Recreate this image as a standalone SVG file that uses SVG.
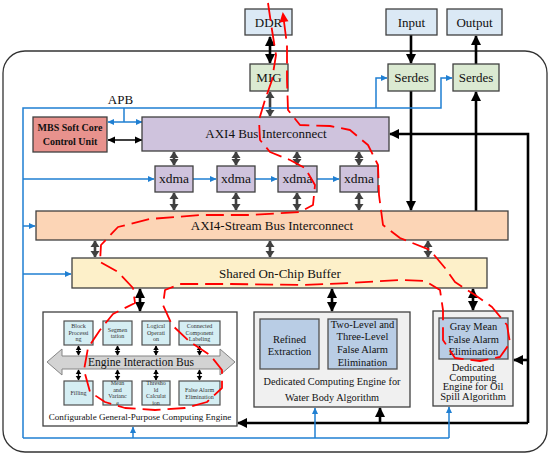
<svg xmlns="http://www.w3.org/2000/svg" width="550" height="455" viewBox="0 0 550 455">
<style>
text{font-family:"Liberation Serif","Times New Roman",serif;fill:#111;text-anchor:middle}
.bx{stroke:#404040;stroke-width:1.3}
.lb{fill:#dbe9f5}.gr{fill:#dbead2}.pu{fill:#cfc3dd}
.sm{fill:#d5eef3;stroke:#505050;stroke-width:1.2}
.st{font-size:6px;fill:#333}
.k{stroke:#000;stroke-width:2.6;fill:none}
.kt{stroke:#000;stroke-width:1.4;fill:none}
.g{stroke:#404040;stroke-width:2.6;fill:none}
.b{stroke:#1f7fd2;stroke-width:1.5;fill:none}
</style>
<defs>
<marker id="hk" markerUnits="userSpaceOnUse" markerWidth="10" markerHeight="10" refX="9" refY="5" orient="auto-start-reverse" overflow="visible"><path d="M0,0 L10,5 L0,10 z" fill="#000"/></marker>
<marker id="hg" markerUnits="userSpaceOnUse" markerWidth="7" markerHeight="9" refX="6" refY="4.5" orient="auto-start-reverse" overflow="visible"><path d="M0,0 L6.5,4.5 L0,9 z" fill="#404040"/></marker>
<marker id="hb" markerUnits="userSpaceOnUse" markerWidth="7" markerHeight="7" refX="6" refY="3" orient="auto-start-reverse" overflow="visible"><path d="M0,0 L6.5,3 L0,6 z" fill="#1f7fd2"/></marker>
<marker id="hs" markerUnits="userSpaceOnUse" markerWidth="5" markerHeight="6" refX="4" refY="2.75" orient="auto-start-reverse" overflow="visible"><path d="M0,0 L4.5,2.75 L0,5.5 z" fill="#000"/></marker>
<marker id="hm" markerUnits="userSpaceOnUse" markerWidth="8" markerHeight="8" refX="7" refY="3.5" orient="auto-start-reverse" overflow="visible"><path d="M0,0 L7.5,3.5 L0,7 z" fill="#000"/></marker>
<marker id="hr" markerUnits="userSpaceOnUse" markerWidth="10" markerHeight="10" refX="8" refY="4.5" orient="auto" overflow="visible"><path d="M0,0 L10,4.5 L0,9 z" fill="#ff0000"/></marker>
</defs>
<rect x="3" y="51" width="544" height="401" rx="22" fill="#fff" stroke="#333" stroke-width="1.3"/>

<g id="connectors">
<path class="k" d="M270,37 L270,63" marker-start="url(#hk)" marker-end="url(#hk)"/>
<path class="g" d="M270,92 L270,116" marker-start="url(#hg)" marker-end="url(#hg)"/>
<path class="k" d="M411,35 L411,63" marker-end="url(#hk)"/>
<path class="k" d="M476,64 L476,36" marker-end="url(#hk)"/>
<path class="k" d="M411,91 L411,210" marker-end="url(#hk)"/>
<path class="k" d="M476,211 L476,92" marker-end="url(#hk)"/>
<path class="k" d="M528,423 L528,134 L390,134" marker-end="url(#hk)"/>
<path class="k" d="M528,360 L514,360" marker-end="url(#hk)"/>
<path class="k" d="M528,423 L238,423" marker-end="url(#hk)"/>
<path class="k" d="M380,423 L380,408" marker-end="url(#hk)"/>
<path class="b" d="M23,438 L23,108 L441,108 L441,78 L452,78" marker-end="url(#hb)"/>
<path class="b" d="M376,108 L376,78 L387,78" marker-end="url(#hb)"/>
<path class="b" d="M124,108 L124,122"/>
<path class="b" d="M108,122 L142,122" marker-start="url(#hb)" marker-end="url(#hb)"/>
<path class="kt" d="M108,140 L142,140" marker-start="url(#hm)" marker-end="url(#hm)"/>
<path class="b" d="M23,179 L154,179" marker-end="url(#hb)"/>
<path class="b" d="M193,179 L216,179" marker-end="url(#hb)"/>
<path class="b" d="M255,179 L277,179" marker-end="url(#hb)"/>
<path class="b" d="M317,179 L339,179" marker-end="url(#hb)"/>
<path class="b" d="M23,226 L35,226" marker-end="url(#hb)"/>
<path class="b" d="M23,274 L71,274" marker-end="url(#hb)"/>
<path class="b" d="M23,438 L449,438"/>
<path class="b" d="M133,438 L133,427" marker-end="url(#hb)"/>
<path class="b" d="M315,438 L315,408" marker-end="url(#hb)"/>
<path class="b" d="M449,438 L449,407" marker-end="url(#hb)"/>
<path class="g" d="M174,152 L174,165" marker-start="url(#hg)" marker-end="url(#hg)"/>
<path class="g" d="M236,152 L236,165" marker-start="url(#hg)" marker-end="url(#hg)"/>
<path class="g" d="M297,152 L297,165" marker-start="url(#hg)" marker-end="url(#hg)"/>
<path class="g" d="M359,152 L359,165" marker-start="url(#hg)" marker-end="url(#hg)"/>
<path class="g" d="M174,193 L174,210" marker-start="url(#hg)" marker-end="url(#hg)"/>
<path class="g" d="M236,193 L236,210" marker-start="url(#hg)" marker-end="url(#hg)"/>
<path class="g" d="M297,193 L297,210" marker-start="url(#hg)" marker-end="url(#hg)"/>
<path class="g" d="M359,193 L359,210" marker-start="url(#hg)" marker-end="url(#hg)"/>
<path class="g" d="M95,241 L95,257" marker-start="url(#hg)" marker-end="url(#hg)"/>
<path class="g" d="M270,241 L270,257" marker-start="url(#hg)" marker-end="url(#hg)"/>
<path class="g" d="M428,241 L428,257" marker-start="url(#hg)" marker-end="url(#hg)"/>
<path class="k" d="M140,289 L140,311" marker-start="url(#hk)" marker-end="url(#hk)"/>
<path class="k" d="M332,289 L332,311" marker-start="url(#hk)" marker-end="url(#hk)"/>
<path class="k" d="M473,289 L473,310" marker-start="url(#hk)" marker-end="url(#hk)"/>
</g>

<g id="ddr"><rect class="bx lb" x="245" y="9" width="47" height="26"/><text x="268.5" y="27" font-size="13">DDR</text></g>
<g id="mig"><rect class="bx gr" x="250" y="64" width="38" height="27"/><text x="269" y="82" font-size="13">MIG</text></g>
<g id="input"><rect class="bx lb" x="386" y="9" width="51" height="26"/><text x="411.5" y="27" font-size="13">Input</text></g>
<g id="output"><rect class="bx lb" x="447" y="9" width="55" height="26"/><text x="474.5" y="27" font-size="13">Output</text></g>
<g id="serdes1"><rect class="bx gr" x="388" y="64" width="47" height="27"/><text x="411.5" y="82" font-size="13">Serdes</text></g>
<g id="serdes2"><rect class="bx gr" x="453" y="64" width="46" height="27"/><text x="476" y="82" font-size="13">Serdes</text></g>
<g id="apb"><text x="120.5" y="104" font-size="13">APB</text></g>
<g id="mbs"><rect class="bx" fill="#e8928d" x="33" y="117" width="74" height="35"/><text x="70" y="131" font-size="10" font-weight="bold">MBS Soft Core</text><text x="70" y="145" font-size="10" font-weight="bold">Control Unit</text></g>
<g id="axi4"><rect class="bx pu" x="142" y="117" width="247" height="34"/><text x="266" y="138" font-size="13">AXI4 Bus Interconnect</text></g>
<g id="xdma1"><rect class="bx pu" x="155" y="166" width="38" height="26"/><text x="174" y="183" font-size="13.5">xdma</text></g>
<g id="xdma2"><rect class="bx pu" x="217" y="166" width="38" height="26"/><text x="236" y="183" font-size="13.5">xdma</text></g>
<g id="xdma3"><rect class="bx pu" x="278" y="166" width="39" height="26"/><text x="297.5" y="183" font-size="13.5">xdma</text></g>
<g id="xdma4"><rect class="bx pu" x="340" y="166" width="38" height="26"/><text x="359" y="183" font-size="13.5">xdma</text></g>
<g id="axis"><rect class="bx" fill="#fcd5b6" x="36" y="211" width="472" height="29"/><text x="272" y="230" font-size="13">AXI4-Stream Bus Interconnect</text></g>
<g id="buffer"><rect class="bx" fill="#fdf0c9" x="72" y="258" width="415" height="30"/><text x="280" y="278" font-size="13">Shared On-Chip Buffer</text></g>

<g id="general-engine">
<rect class="bx" fill="#fff" x="43" y="312" width="194" height="114"/>
<polygon points="47,362 62,349 62,356 220,356 220,349 235,362 220,375 220,369 62,369 62,375" fill="#d3d3d3" stroke="#858585" stroke-width="1"/>
<text x="141" y="366" font-size="11.5">Engine Interaction Bus</text>
<path class="kt" d="M78.5,346 L78.5,355" marker-start="url(#hs)" marker-end="url(#hs)"/>
<path class="kt" d="M117.5,346 L117.5,355" marker-start="url(#hs)" marker-end="url(#hs)"/>
<path class="kt" d="M156,346 L156,355" marker-start="url(#hs)" marker-end="url(#hs)"/>
<path class="kt" d="M199.5,346 L199.5,355" marker-start="url(#hs)" marker-end="url(#hs)"/>
<path class="kt" d="M78.5,370 L78.5,380" marker-start="url(#hs)" marker-end="url(#hs)"/>
<path class="kt" d="M117.5,370 L117.5,380" marker-start="url(#hs)" marker-end="url(#hs)"/>
<path class="kt" d="M156,370 L156,380" marker-start="url(#hs)" marker-end="url(#hs)"/>
<path class="kt" d="M199.5,370 L199.5,380" marker-start="url(#hs)" marker-end="url(#hs)"/>
<text x="140" y="420" font-size="9.1">Configurable General-Purpose Computing Engine</text>
</g>
<g id="block-processing"><rect class="sm" x="64" y="321" width="29" height="24"/><text class="st" x="78.5" y="328">Block</text><text class="st" x="78.5" y="334.5">Processi</text><text class="st" x="78.5" y="341">ng</text></g>
<g id="segmentation"><rect class="sm" x="103" y="321" width="29" height="24"/><text class="st" x="117.5" y="331.5">Segmen</text><text class="st" x="117.5" y="338">tation</text></g>
<g id="logical-operation"><rect class="sm" x="142" y="321" width="28" height="24"/><text class="st" x="156" y="328">Logical</text><text class="st" x="156" y="334.5">Operati</text><text class="st" x="156" y="341">on</text></g>
<g id="ccl"><rect class="sm" x="179" y="321" width="41" height="24"/><text class="st" x="199.5" y="328">Connected</text><text class="st" x="199.5" y="334.5">Component</text><text class="st" x="199.5" y="341">Labeling</text></g>
<g id="filling"><rect class="sm" x="64" y="381" width="29" height="24"/><text class="st" x="78.5" y="395">Filling</text></g>
<g id="mean-variance"><rect class="sm" x="103" y="381" width="29" height="24"/><text class="st" x="117.5" y="385">Mean</text><text class="st" x="117.5" y="391.5">and</text><text class="st" x="117.5" y="398">Varianc</text><text class="st" x="117.5" y="404.5">e</text></g>
<g id="threshold"><rect class="sm" x="142" y="381" width="28" height="24"/><text class="st" x="156" y="385">Thresho</text><text class="st" x="156" y="391.5">ld</text><text class="st" x="156" y="398">Calculat</text><text class="st" x="156" y="404.5">ion</text></g>
<g id="false-alarm"><rect class="sm" x="179" y="381" width="41" height="24"/><text class="st" x="199.5" y="392">False Alarm</text><text class="st" x="199.5" y="398.5">Elimination</text></g>

<g id="water-engine">
<rect class="bx" fill="#f0f0f0" x="254" y="312" width="156" height="95"/>
<rect fill="#b9cde5" stroke="#505050" stroke-width="1.3" x="260" y="319" width="59" height="50"/>
<text x="289.5" y="343" font-size="10.5">Refined</text><text x="289.5" y="355" font-size="10.5">Extraction</text>
<rect fill="#b9cde5" stroke="#505050" stroke-width="1.3" x="328" y="319" width="69" height="50"/>
<text x="362.5" y="328" font-size="10.5">Two-Level and</text><text x="362.5" y="340" font-size="10.5">Three-Level</text><text x="362.5" y="352.5" font-size="10.5">False Alarm</text><text x="362.5" y="366" font-size="10.5">Elimination</text>
<text x="332" y="385" font-size="10.3">Dedicated Computing Engine for</text>
<text x="332" y="401" font-size="10.3">Water Body Algorithm</text>
</g>
<g id="oil-engine">
<rect class="bx" fill="#f0f0f0" x="433" y="311" width="80" height="95"/>
<rect fill="#b9cde5" stroke="#505050" stroke-width="1.3" x="439" y="318" width="69" height="41"/>
<text x="473.5" y="330" font-size="10.5">Gray Mean</text><text x="473.5" y="342.5" font-size="10.5">False Alarm</text><text x="473.5" y="355" font-size="10.5">Elimination</text>
<text x="473" y="371" font-size="10.5">Dedicated</text><text x="473" y="380.5" font-size="10.5">Computing</text><text x="473" y="390" font-size="10.5">Engine for Oil</text><text x="473" y="400" font-size="10.5">Spill Algorithm</text>
</g>

<g id="annotation">
<path d="M268,3 L272,30 L276,55 L272,80 L265,100 L259,120 L260,140 L270,152 L290,160 L305,168 L315,185 L313,205 L300,212 L250,215 L200,215 L150,219 L118,227 L101,245 L100,262 L118,272 L133,288 L135,303 L113,314 L100,330 L88,348 L84,370 L90,392 L105,402 L125,408 L155,410 L185,408 L207,402 L222,388 L222,370 L210,355 L190,342 L172,325 L163,305 L165,290 L180,284 L230,284 L300,285 L350,283 L400,280 L425,281 L440,290 L443,310 L443,340 L455,358 L480,361 L500,357 L510,343 L507,325 L492,307 L475,295 L455,282 L445,268 L430,250 L400,238 L383,225 L379,195 L378,165 L368,145 L350,130 L330,126 L300,125 L288,110 L287,80 L287,45 L283,14" fill="none" stroke="#ff0000" stroke-width="1.8" stroke-dasharray="18 7" stroke-linejoin="round" marker-end="url(#hr)"/>
</g>
</svg>
